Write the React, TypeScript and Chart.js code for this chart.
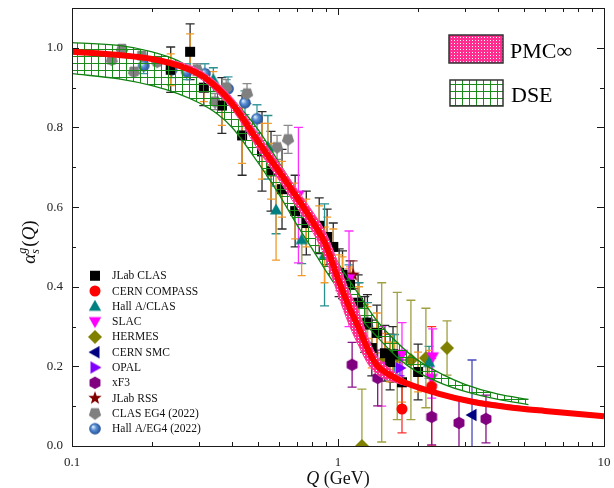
import React, { useEffect, useRef } from 'react';
import { Chart, registerables } from 'chart.js';
Chart.register(...registerables);

const SERIF = '"Liberation Serif", "Times New Roman", serif';

// ---------- theory curves ----------
const pmcQ = [0.1, 0.15, 0.2, 0.26, 0.316, 0.4, 0.5, 0.6, 0.7, 0.8, 0.9, 1.0, 1.1, 1.2, 1.3, 1.4, 1.6, 1.8, 2.4, 3.2, 4.3, 6, 10];
const pmcVal = [0.99, 0.982, 0.972, 0.952, 0.925, 0.86, 0.765, 0.69, 0.625, 0.565, 0.505, 0.42, 0.35, 0.295, 0.24, 0.203, 0.175, 0.158, 0.131, 0.111, 0.098, 0.088, 0.075];

const pmcBandQ = [0.1, 0.2, 0.3, 0.4, 0.5, 0.6, 0.7, 0.8, 0.9, 1.0, 1.1, 1.2, 1.3, 1.4, 1.6, 1.8, 2.5, 10];
const pmcUpper = [0.99, 0.976, 0.945, 0.875, 0.785, 0.71, 0.645, 0.59, 0.535, 0.46, 0.39, 0.335, 0.27, 0.225, 0.19, 0.165, 0.132, 0.075];
const pmcLower = [0.99, 0.968, 0.925, 0.845, 0.745, 0.668, 0.6, 0.54, 0.47, 0.38, 0.305, 0.25, 0.205, 0.18, 0.162, 0.152, 0.128, 0.075];

const dseQ = [0.1, 0.15, 0.2, 0.25, 0.3, 0.35, 0.4, 0.5, 0.6, 0.7, 0.8, 0.9, 1.0, 1.2, 1.4, 1.7, 2.0, 2.5, 3.0, 4.0, 5.2];
const dseUpper = [1.013, 1.006, 0.99, 0.968, 0.935, 0.9, 0.87, 0.795, 0.712, 0.64, 0.575, 0.515, 0.46, 0.38, 0.315, 0.255, 0.215, 0.178, 0.155, 0.13, 0.117];
const dseLower = [0.935, 0.922, 0.905, 0.885, 0.862, 0.835, 0.8, 0.712, 0.632, 0.556, 0.495, 0.44, 0.395, 0.325, 0.275, 0.218, 0.185, 0.155, 0.137, 0.117, 0.104];

// ---------- experimental data ----------
const clasQ = [0.235, 0.278, 0.313, 0.366, 0.436, 0.518, 0.56, 0.616, 0.69, 0.76, 0.85, 0.91, 0.96, 1.01, 1.04, 1.11, 1.19, 1.26, 1.29, 1.34, 1.40, 1.50, 1.57, 1.61, 1.74, 2.0];
const clasVal = [0.945, 0.99, 0.90, 0.855, 0.78, 0.74, 0.69, 0.645, 0.59, 0.56, 0.553, 0.525, 0.50, 0.435, 0.43, 0.405, 0.36, 0.305, 0.31, 0.246, 0.284, 0.233, 0.211, 0.23, 0.16, 0.186];
const clasErr = [0.057, 0.07, 0.045, 0.07, 0.1, 0.1, 0.1, 0.1, 0.09, 0.08, 0.07, 0.07, 0.06, 0.06, 0.06, 0.06, 0.07, 0.07, 0.07, 0.07, 0.07, 0.07, 0.07, 0.07, 0.07, 0.07];
const clasSys = [0.04, 0.045, 0.035, 0.05, 0.07, 0.07, 0.07, 0.07, 0.07, 0.06, 0.05, 0.05, 0.045, 0.045, 0.045, 0.045, 0.05, 0.05, 0.05, 0.05, 0.05, 0.05, 0.05, 0.05, 0.05, 0.05];

const hallQ = [0.34, 0.545, 0.585, 0.73, 0.89, 1.1, 1.2, 1.29, 1.63, 2.2];
const hallVal = [0.92, 0.75, 0.593, 0.518, 0.48, 0.405, 0.36, 0.31, 0.23, 0.21];
const hallErr = [0.03, 0.08, 0.06, 0.06, 0.128, 0.05, 0.05, 0.05, 0.05, 0.04];
const hallSys = [0.02, 0.06, 0.126, 0.09, 0.07, 0.04, 0.04, 0.04, 0.03, 0.03];

const compassQ = [1.74, 2.25];
const compassVal = [0.093, 0.15];
const compassErr = [0.06, 0.15];

const slacQ = [0.71, 1.1, 1.46, 1.74, 2.25, 2.27];
const slacVal = [0.63, 0.42, 0.2, 0.23, 0.17, 0.224];
const slacErr = [0.17, 0.12, 0.1, 0.08, 0.05, 0.07];

const hermesQ = [1.23, 1.46, 1.67, 1.88, 2.14, 2.57];
const hermesVal = [0.0, 0.21, 0.226, 0.216, 0.221, 0.246];
const hermesErr = [0.143, 0.2, 0.16, 0.15, 0.125, 0.068];

const smcQ = [3.19];
const smcVal = [0.078];
const smcErr = [0.138];

const opalQ = [1.71];
const opalVal = [0.196];
const opalErr = [0.02];

const xf3Q = [1.13, 1.41, 2.25, 2.85, 3.6];
const xf3Val = [0.204, 0.171, 0.073, 0.058, 0.068];
const xf3Err = [0.056, 0.07, 0.07, 0.06, 0.06];

const rssQ = [1.14];
const rssVal = [0.43];
const rssErr = [0.035];

const eg4Q = [0.141, 0.154, 0.171, 0.183, 0.209, 0.295, 0.345, 0.38, 0.455, 0.59, 0.649];
const eg4Val = [0.97, 0.997, 0.94, 0.98, 0.965, 0.945, 0.865, 0.9, 0.885, 0.75, 0.77];
const eg4Err = [0.01, 0.01, 0.01, 0.01, 0.01, 0.015, 0.02, 0.02, 0.025, 0.03, 0.035];

const hallEg4Q = [0.186, 0.237, 0.27, 0.316, 0.386, 0.447, 0.496];
const hallEg4Val = [0.955, 0.945, 0.94, 0.935, 0.897, 0.862, 0.822];
const hallEg4Err = [0.02, 0.02, 0.02, 0.025, 0.03, 0.03, 0.035];

const yTickVals = [0, 0.2, 0.4, 0.6, 0.8, 1.0];
const xTickVals = [0.1, 1, 10];
const xTickLabels = ['0.1', '1', '10'];

type Series = { label: string; kind: string; color: string; bar: string; q: number[]; v: number[]; e: number[]; sys?: number[] };

const SERIES: Series[] = [
  { label: 'JLab CLAS', kind: 'square', color: '#000000', bar: '#2a2a2a', q: clasQ, v: clasVal, e: clasErr, sys: clasSys },
  { label: 'CERN COMPASS', kind: 'circle', color: '#ff0000', bar: '#ff3030', q: compassQ, v: compassVal, e: compassErr },
  { label: 'Hall A/CLAS', kind: 'triUp', color: '#008080', bar: '#2a9090', q: hallQ, v: hallVal, e: hallErr, sys: hallSys },
  { label: 'SLAC', kind: 'triDown', color: '#ff00ff', bar: '#ff30ff', q: slacQ, v: slacVal, e: slacErr },
  { label: 'HERMES', kind: 'diamond', color: '#808000', bar: '#a0a040', q: hermesQ, v: hermesVal, e: hermesErr },
  { label: 'CERN SMC', kind: 'triLeft', color: '#000080', bar: '#4a4ac0', q: smcQ, v: smcVal, e: smcErr },
  { label: 'OPAL', kind: 'triRight', color: '#8000ff', bar: '#8000ff', q: opalQ, v: opalVal, e: opalErr },
  { label: 'xF3', kind: 'hexagon', color: '#800080', bar: '#8a108a', q: xf3Q, v: xf3Val, e: xf3Err },
  { label: 'JLab RSS', kind: 'star', color: '#800000', bar: '#a04040', q: rssQ, v: rssVal, e: rssErr },
  { label: 'CLAS EG4 (2022)', kind: 'pentagon', color: '#808080', bar: '#8a8a8a', q: eg4Q, v: eg4Val, e: eg4Err },
  { label: 'Hall A/EG4 (2022)', kind: 'sphere', color: '#2a62b0', bar: '#3a9aa0', q: hallEg4Q, v: hallEg4Val, e: hallEg4Err },
];

function polyPath(g: CanvasRenderingContext2D, m: number, n: number, r: number, start: number) {
  for (let i = 0; i < n; i++) {
    const a = start + (i * 2 * Math.PI) / n;
    const px = m + r * Math.cos(a), py = m + r * Math.sin(a);
    if (i === 0) g.moveTo(px, py); else g.lineTo(px, py);
  }
  g.closePath();
}

function makeMarker(kind: string, color: string): HTMLCanvasElement {
  const S = 16;
  const c = document.createElement('canvas');
  c.width = S; c.height = S;
  const g = c.getContext('2d')!;
  const m = S / 2;
  g.fillStyle = color;
  g.beginPath();
  const poly = (pts: number[][]) => {
    pts.forEach((p, i) => (i === 0 ? g.moveTo(m + p[0], m + p[1]) : g.lineTo(m + p[0], m + p[1])));
    g.closePath();
  };
  switch (kind) {
    case 'square': g.rect(m - 5, m - 5, 10, 10); break;
    case 'circle': g.arc(m, m, 5.5, 0, Math.PI * 2); break;
    case 'triUp': poly([[0, -6.5], [6.2, 4.5], [-6.2, 4.5]]); break;
    case 'triDown': poly([[0, 6.5], [6.2, -4.5], [-6.2, -4.5]]); break;
    case 'triLeft': poly([[-6.5, 0], [4.5, -6.2], [4.5, 6.2]]); break;
    case 'triRight': poly([[6.5, 0], [-4.5, -6.2], [-4.5, 6.2]]); break;
    case 'diamond': poly([[0, -7], [7, 0], [0, 7], [-7, 0]]); break;
    case 'hexagon': polyPath(g, m, 6, 6.3, -Math.PI / 2); break;
    case 'pentagon': polyPath(g, m, 5, 6.5, Math.PI / 2); break;
    case 'star': {
      for (let i = 0; i < 10; i++) {
        const r = i % 2 === 0 ? 7 : 2.9;
        const a = -Math.PI / 2 + (i * Math.PI) / 5;
        const px = m + r * Math.cos(a), py = m + r * Math.sin(a);
        if (i === 0) g.moveTo(px, py); else g.lineTo(px, py);
      }
      g.closePath();
      break;
    }
    case 'sphere': {
      const grd = g.createRadialGradient(m - 2, m - 2, 0.5, m, m, 6);
      grd.addColorStop(0, '#d6e8fa');
      grd.addColorStop(0.4, '#5b8fd2');
      grd.addColorStop(1, '#1b4a92');
      g.fillStyle = grd;
      g.arc(m, m, 5.8, 0, Math.PI * 2);
      break;
    }
  }
  g.fill();
  return c;
}

function makePmcPattern(ctx: CanvasRenderingContext2D) {
  const c = document.createElement('canvas');
  c.width = 3; c.height = 3;
  const g = c.getContext('2d')!;
  g.fillStyle = '#ff2d8f';
  g.fillRect(0, 0, 3, 3);
  g.fillStyle = '#ffffff';
  g.fillRect(1, 1, 1, 1);
  return ctx.createPattern(c, 'repeat')!;
}

function makeDsePattern(ctx: CanvasRenderingContext2D, bg: boolean) {
  const c = document.createElement('canvas');
  c.width = 7; c.height = 7;
  const g = c.getContext('2d')!;
  if (bg) { g.fillStyle = '#ffffff'; g.fillRect(0, 0, 7, 7); }
  g.fillStyle = '#1a8a1a';
  g.fillRect(0, 0, 7, 1);
  g.fillRect(0, 0, 1, 7);
  return ctx.createPattern(c, 'repeat')!;
}

const toPts = (q: number[], v: number[]) => q.map((x, i) => ({ x, y: v[i] }));

export default function App() {
  const ref = useRef<HTMLCanvasElement>(null);

  useEffect(() => {
    document.body.style.margin = '0';
    const canvas = ref.current!;
    const ctx0 = canvas.getContext('2d')!;
    const pmcPattern = makePmcPattern(ctx0);
    const dsePattern = makeDsePattern(ctx0, false);
    const dseLegendPattern = makeDsePattern(ctx0, true);
    const markers = SERIES.map((s) => makeMarker(s.kind, s.color));

    const curveBase = { showLine: true, pointRadius: 0, pointHoverRadius: 0, cubicInterpolationMode: 'monotone' };

    const datasets: any[] = [
      { ...curveBase, label: 'PMC', data: toPts(pmcQ, pmcVal), borderColor: '#ff0000', borderWidth: 6, fill: false, order: 0 },
      { ...curveBase, label: 'pmcUp', data: toPts(pmcBandQ, pmcUpper), borderColor: '#ff4da6', borderWidth: 1, fill: '+1', backgroundColor: pmcPattern, order: 1 },
      { ...curveBase, label: 'pmcLo', data: toPts(pmcBandQ, pmcLower), borderColor: '#ff4da6', borderWidth: 1, fill: false, order: 1 },
      { ...curveBase, label: 'dseUp', data: toPts(dseQ, dseUpper), borderColor: '#108010', borderWidth: 1.3, fill: '+1', backgroundColor: dsePattern, order: 2 },
      { ...curveBase, label: 'dseLo', data: toPts(dseQ, dseLower), borderColor: '#108010', borderWidth: 1.3, fill: false, order: 2 },
    ];
    SERIES.forEach((s, i) => {
      datasets.push({
        label: s.label,
        data: toPts(s.q, s.v),
        showLine: false,
        pointStyle: markers[i],
        pointRadius: 6,
        order: 3,
        errs: s.e,
        sys: s.sys,
        barColor: s.bar,
      });
    });

    const errorBars = {
      id: 'errorBars',
      beforeDatasetsDraw(chart: any) {
        const { ctx, chartArea: a, scales } = chart;
        const x = scales.x, y = scales.y;
        ctx.save();
        ctx.beginPath();
        ctx.rect(a.left, a.top, a.right - a.left, a.bottom - a.top);
        ctx.clip();
        const draw = (ds: any, errs: number[], color: string, cap: number) => {
          ctx.strokeStyle = color;
          ctx.lineWidth = 1.3;
          ds.data.forEach((p: any, i: number) => {
            const px = x.getPixelForValue(p.x);
            const y1 = y.getPixelForValue(p.y + errs[i]);
            const y2 = y.getPixelForValue(p.y - errs[i]);
            ctx.beginPath();
            ctx.moveTo(px, y1); ctx.lineTo(px, y2);
            ctx.moveTo(px - cap, y1); ctx.lineTo(px + cap, y1);
            ctx.moveTo(px - cap, y2); ctx.lineTo(px + cap, y2);
            ctx.stroke();
          });
        };
        chart.data.datasets.forEach((ds: any) => {
          if (!ds.errs) return;
          draw(ds, ds.errs, ds.barColor, 4.5);
          if (ds.sys) draw(ds, ds.sys, '#f39a2b', 4);
        });
        ctx.restore();
      },
    };

    const decor = {
      id: 'decor',
      afterDraw(chart: any) {
        const { ctx, chartArea: a, scales } = chart;
        const x = scales.x, y = scales.y;
        ctx.save();
        // frame
        ctx.strokeStyle = '#1a1a1a';
        ctx.lineWidth = 1;
        ctx.strokeRect(Math.round(a.left) + 0.5, Math.round(a.top) + 0.5, Math.round(a.right - a.left), Math.round(a.bottom - a.top));
        // y ticks
        ctx.beginPath();
        for (let k = 0; k <= 11; k++) {
          const v = k / 10;
          const len = k % 2 === 0 ? 7 : 4;
          const py = Math.round(y.getPixelForValue(v)) + 0.5;
          ctx.moveTo(a.left, py); ctx.lineTo(a.left + len, py);
          ctx.moveTo(a.right, py); ctx.lineTo(a.right - len, py);
        }
        // x ticks
        [0.1, 1].forEach((d) => {
          for (let m = 1; m <= 10; m++) {
            const v = d * m;
            const len = m === 1 || m === 10 ? 7 : 4;
            const px = Math.round(x.getPixelForValue(v)) + 0.5;
            ctx.moveTo(px, a.bottom); ctx.lineTo(px, a.bottom - len);
            ctx.moveTo(px, a.top); ctx.lineTo(px, a.top + len);
          }
        });
        ctx.stroke();

        // x title
        ctx.fillStyle = '#111';
        ctx.textBaseline = 'alphabetic';
        const fQ = `italic 18px ${SERIF}`;
        const fN = `18px ${SERIF}`;
        ctx.font = fQ; const wq = ctx.measureText('Q').width;
        ctx.font = fN; const wr = ctx.measureText(' (GeV)').width;
        const cx = (a.left + a.right) / 2;
        const sx = cx - (wq + wr) / 2;
        ctx.font = fQ; ctx.fillText('Q', sx, 484);
        ctx.font = fN; ctx.fillText(' (GeV)', sx + wq, 484);

        // y title (rotated)
        ctx.save();
        ctx.translate(35, 242);
        ctx.rotate(-Math.PI / 2);
        const fBig = `italic 19px ${SERIF}`;
        const fSm = `italic 12px ${SERIF}`;
        const fNorm = `19px ${SERIF}`;
        ctx.font = fBig; const wA = ctx.measureText('α').width;
        ctx.font = fSm; const wG = Math.max(ctx.measureText('g').width, ctx.measureText('s').width);
        ctx.font = fNorm; const wP = ctx.measureText('(').width; const wP2 = ctx.measureText(')').width;
        ctx.font = fBig; const wQ2 = ctx.measureText('Q').width;
        const tot = wA + wG + 1 + wP + wQ2 + wP2;
        let lx = -tot / 2;
        ctx.font = fBig; ctx.fillText('α', lx, 0); lx += wA;
        ctx.font = fSm; ctx.fillText('g', lx, -9); ctx.fillText('s', lx, 4); lx += wG + 1;
        ctx.font = fNorm; ctx.fillText('(', lx, 0); lx += wP;
        ctx.font = fBig; ctx.fillText('Q', lx, 0); lx += wQ2;
        ctx.font = fNorm; ctx.fillText(')', lx, 0);
        ctx.restore();

        // top-right legend (theory bands)
        ctx.lineWidth = 1.5;
        ctx.strokeStyle = '#333';
        ctx.fillStyle = pmcPattern;
        ctx.fillRect(449, 35, 54, 28);
        ctx.strokeRect(449, 35, 54, 28);
        ctx.fillStyle = dseLegendPattern;
        ctx.fillRect(450, 80, 53, 26);
        ctx.strokeRect(450, 80, 53, 26);
        ctx.fillStyle = '#000';
        ctx.font = `22px ${SERIF}`;
        ctx.textBaseline = 'alphabetic';
        ctx.fillText('PMC∞', 510, 58);
        ctx.fillText('DSE', 511, 102);

        // data legend (bottom-left)
        ctx.font = `11.5px ${SERIF}`;
        ctx.textBaseline = 'middle';
        ctx.fillStyle = '#111';
        SERIES.forEach((s, i) => {
          const yy = 275.7 + i * 15.3;
          const mk = markers[i];
          ctx.drawImage(mk, 95 - mk.width / 2, yy - mk.height / 2);
          ctx.fillText(s.label, 112, yy + 0.5);
        });
        ctx.restore();
      },
    };

    const chart = new Chart(canvas, {
      type: 'scatter',
      data: { datasets },
      options: {
        responsive: false,
        animation: false,
        events: [],
        layout: { padding: { left: 0, right: 10, top: 8, bottom: 0 } },
        plugins: { legend: { display: false }, tooltip: { enabled: false } },
        scales: {
          x: {
            type: 'logarithmic',
            min: 0.1,
            max: 10,
            afterBuildTicks: (s: any) => { s.ticks = xTickVals.map((v) => ({ value: v })); },
            afterFit: (s: any) => { s.height = 42; s.paddingLeft = 0; s.paddingRight = 0; },
            ticks: {
              autoSkip: false,
              maxRotation: 0,
              padding: 9,
              color: '#222',
              font: { family: SERIF, size: 13 },
              callback: (v: any, i: number) => xTickLabels[i],
            },
            grid: { display: false, drawTicks: false },
            border: { display: false },
          },
          y: {
            type: 'linear',
            min: 0,
            max: 1.1,
            afterBuildTicks: (s: any) => { s.ticks = yTickVals.map((v) => ({ value: v })); },
            afterFit: (s: any) => { s.width = 72; s.paddingTop = 0; s.paddingBottom = 0; },
            ticks: {
              padding: 9,
              color: '#222',
              font: { family: SERIF, size: 13 },
              callback: (v: any) => Number(v).toFixed(1),
            },
            grid: { display: false, drawTicks: false },
            border: { display: false },
          },
        },
      } as any,
      plugins: [errorBars, decor],
    });
    return () => chart.destroy();
  }, []);

  return (
    <div style={{ width: 614, height: 488 }}>
      <canvas ref={ref} width={614} height={488} style={{ display: 'block' }} />
    </div>
  );
}
